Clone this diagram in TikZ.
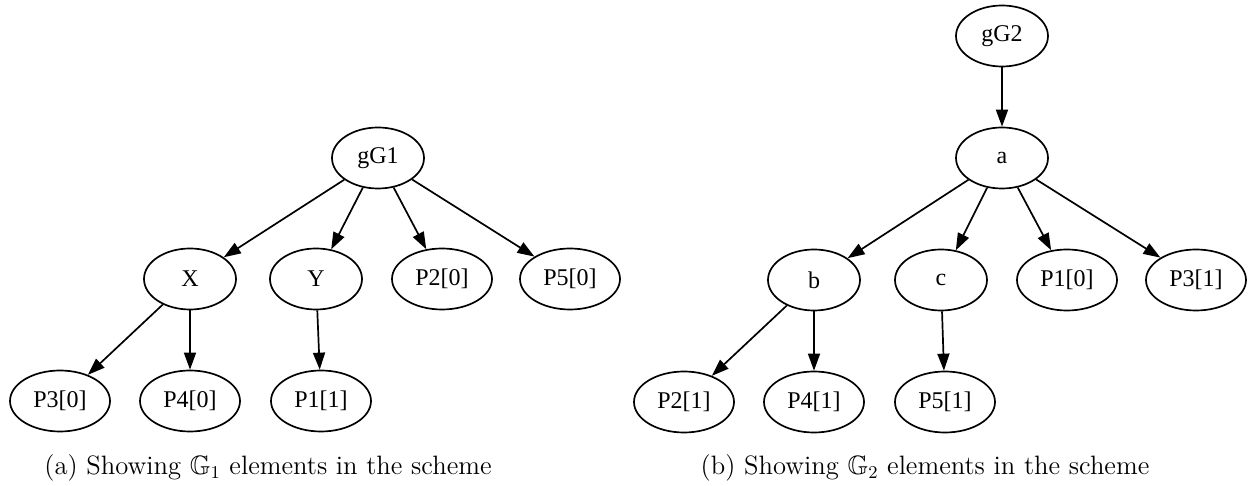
\documentclass[tikz,border=0pt]{standalone}
\usepackage{amssymb}
\usepackage{fontspec}
\newfontfamily\gvfont{Liberation Serif}
\usetikzlibrary{shapes.geometric,arrows.meta}
\tikzset{
  nd/.style={ellipse,draw,line width=0.85pt,inner sep=0pt,minimum width=46pt,minimum height=30.5pt,font=\gvfont\fontsize{12}{14}\selectfont},
  wd/.style={nd,minimum width=50pt},
  edge/.style={line width=0.85pt,-{Triangle[length=8.5pt,width=6pt]}},
  captxt/.style={anchor=base,font=\fontsize{13.3}{15}\selectfont}
}
\begin{document}
\begin{tikzpicture}[x=0.5pt,y=-0.5pt]
\useasboundingbox (0,0) rectangle (1249,486);
% left tree
\node[nd] (gG1) at (378,158) {gG1};
\node[nd] (X) at (190,279) {X};
\node[nd] (Y) at (316,279) {Y};
\node[wd] (P20) at (442,279) {P2[0]};
\node[wd] (P50) at (570,279) {P5[0]};
\node[wd] (P30) at (60,401) {P3[0]};
\node[wd] (P40) at (190,401) {P4[0]};
\node[wd] (P11) at (321,401) {P1[1]};
\draw[edge] (gG1) -- (X);
\draw[edge] (gG1) -- (Y);
\draw[edge] (gG1) -- (P20);
\draw[edge] (gG1) -- (P50);
\draw[edge] (X) -- (P30);
\draw[edge] (X) -- (P40);
\draw[edge] (Y) -- (P11);
% right tree
\node[nd] (gG2) at (1002,36) {gG2};
\node[nd] (a) at (1002,158) {a};
\node[nd] (b) at (814,280) {b};
\node[nd] (c) at (941,280) {c};
\node[wd] (P10) at (1067,280) {P1[0]};
\node[wd] (P31) at (1196,280) {P3[1]};
\node[wd] (P21) at (684,402) {P2[1]};
\node[wd] (P41) at (814,402) {P4[1]};
\node[wd] (P51) at (945,402) {P5[1]};
\draw[edge] (gG2) -- (a);
\draw[edge] (a) -- (b);
\draw[edge] (a) -- (c);
\draw[edge] (a) -- (P10);
\draw[edge] (a) -- (P31);
\draw[edge] (b) -- (P21);
\draw[edge] (b) -- (P41);
\draw[edge] (c) -- (P51);
% captions
\node[captxt] (capa) at (268,474) {(a) Showing $\mathbb{G}_1$ elements in the scheme};
\node[captxt] (capb) at (925,474) {(b) Showing $\mathbb{G}_2$ elements in the scheme};
\end{tikzpicture}
\end{document}
